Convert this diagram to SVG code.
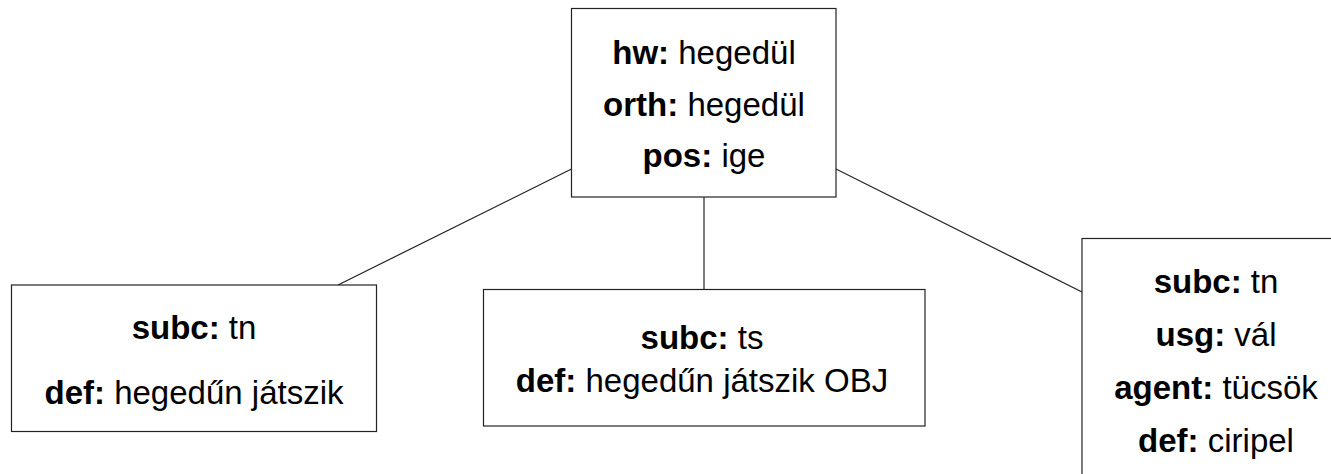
<svg xmlns="http://www.w3.org/2000/svg" width="1331" height="474" viewBox="0 0 1331 474">
<style>
.box{fill:#fff;stroke:#222;stroke-width:1.2}
.edge{stroke:#222;stroke-width:1.2;fill:none}
text{font-family:"Liberation Sans",Arial,sans-serif;font-size:33px;fill:#000;text-anchor:middle}
.b{font-weight:bold}
</style>
<rect width="1331" height="474" fill="#fff"/>
<g id="connectors">
<line class="edge" x1="571.5" y1="169" x2="338" y2="285"/>
<line class="edge" x1="704" y1="197" x2="704" y2="289.5"/>
<line class="edge" x1="836" y1="169" x2="1082" y2="292"/>
</g>
<g id="root">
<rect class="box" x="571.5" y="8.5" width="264.5" height="188.5"/>
<text x="704" y="64"><tspan class="b">hw:</tspan> hegedül</text>
<text x="704" y="115.5"><tspan class="b">orth:</tspan> hegedül</text>
<text x="704" y="167"><tspan class="b">pos:</tspan> ige</text>
</g>
<g id="sense1">
<rect class="box" x="11.5" y="285" width="365" height="146.5"/>
<text x="194" y="338.5"><tspan class="b">subc:</tspan> tn</text>
<text x="194" y="404"><tspan class="b">def:</tspan> hegedűn játszik</text>
</g>
<g id="sense2">
<rect class="box" x="483.5" y="289.5" width="441.5" height="136.5"/>
<text x="702" y="349"><tspan class="b">subc:</tspan> ts</text>
<text x="702" y="392"><tspan class="b">def:</tspan> hegedűn játszik OBJ</text>
</g>
<g id="sense3">
<rect class="box" x="1082" y="238.5" width="270" height="260"/>
<text x="1216" y="292.5"><tspan class="b">subc:</tspan> tn</text>
<text x="1216" y="345.5"><tspan class="b">usg:</tspan> vál</text>
<text x="1216" y="399"><tspan class="b">agent:</tspan> tücsök</text>
<text x="1216" y="452"><tspan class="b">def:</tspan> ciripel</text>
</g>
</svg>
